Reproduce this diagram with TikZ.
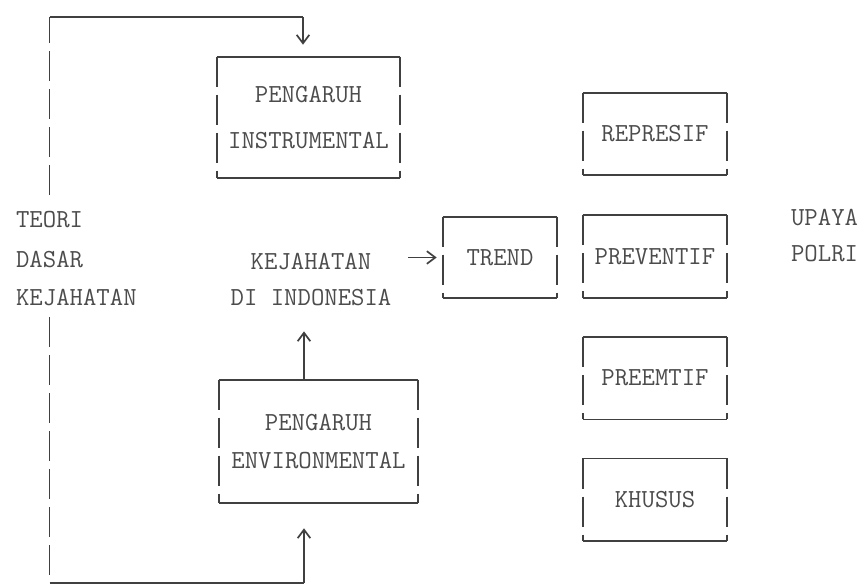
\documentclass[tikz,border=0pt]{standalone}
\usetikzlibrary{positioning,arrows.meta}

% bingkai kotak: atas/bawah utuh, sisi putus-putus
\newcommand{\bingkai}[1]{%
  \draw[garis] (#1.north west) -- (#1.north east);
  \draw[garis] (#1.south west) -- (#1.south east);
  \draw[putus] (#1.north west) -- (#1.south west);
  \draw[putus] (#1.north east) -- (#1.south east);}

\begin{document}
\begin{tikzpicture}[x=0.025cm, y=-0.025cm, node distance=1cm]
    % Gaya
    \tikzstyle{teks} = [font=\ttfamily\fontsize{18.5}{22}\selectfont, text=black!70, inner sep=2pt]
    \tikzstyle{kotak} = [teks, minimum width=3.6cm, minimum height=2.05cm, align=center]
    \tikzstyle{garis} = [draw=black!75, line width=1.2pt]
    \tikzstyle{putus} = [garis, dash pattern=on 0.75cm off 0.2cm]
    \tikzstyle{panah} = [garis, -{Straight Barb[length=6pt,width=9pt]}]

    \useasboundingbox (0,0) rectangle (863,585);

    % Kotak
    \node (instr) [kotak, minimum width=4.575cm, minimum height=3.025cm] at (308.5,117.5) {PENGARUH\\[10.7pt]INSTRUMENTAL};
    \node (env) [kotak, minimum width=4.975cm, minimum height=3.075cm] at (318.5,441.5) {PENGARUH\\[5.7pt]ENVIRONMENTAL};
    \node (trend) [kotak, minimum width=2.85cm, minimum height=2.025cm] at (500,257.5) {TREND};
    \node (represif) [kotak] at (655,134) {REPRESIF};
    \node (preventif) [kotak, below=1cm of represif] {PREVENTIF};
    \node (preemtif) [kotak, below=0.975cm of preventif] {PREEMTIF};
    \node (khusus) [kotak, below=0.975cm of preemtif] {KHUSUS};
    \foreach \k in {instr,env,trend,represif,preventif,preemtif,khusus} {\bingkai{\k}}

    % Teks lepas
    \node (teori) [teks, anchor=west] at (13,220) {TEORI};
    \node (dasar) [teks, anchor=west] at (13,260) {DASAR};
    \node (kejl) [teks, anchor=west] at (13,298) {KEJAHATAN};
    \node (kejc) [teks, align=center] at (311,280) {KEJAHATAN\\[3.6pt]DI INDONESIA};
    \node (upaya) [teks, anchor=west] at (788,218) {UPAYA};
    \node (polri) [teks, anchor=west] at (788,254) {POLRI};

    % Garis umpan
    \coordinate (kananatas) at (303,17);
    \coordinate (kananbawah) at (304,583);
    \draw [putus, shorten <=0.35cm] (teori.north) -- (teori.north |- kananatas);
    \draw [garis] (teori.north |- kananatas) -- (kananatas);
    \draw [panah, shorten >=0.3cm] (kananatas) -- (kananatas |- instr.north);
    \draw [putus, shorten <=0.2cm] (teori.north |- kejl.south) -- (teori.north |- kananbawah);
    \draw [garis] (teori.north |- kananbawah) -- (kananbawah);
    \draw [panah, shorten >=0.625cm] (kananbawah) -- (kananbawah |- env.south);

    % Panah ke kejahatan dan trend
    \draw [panah, shorten >=0.55cm] (kananbawah |- env.north) -- (kananbawah |- kejc.south);
    \draw [panah, shorten <=0.35cm, shorten >=0.15cm] (trend.west -| kejc.east) -- (trend.west);

\end{tikzpicture}
\end{document}
